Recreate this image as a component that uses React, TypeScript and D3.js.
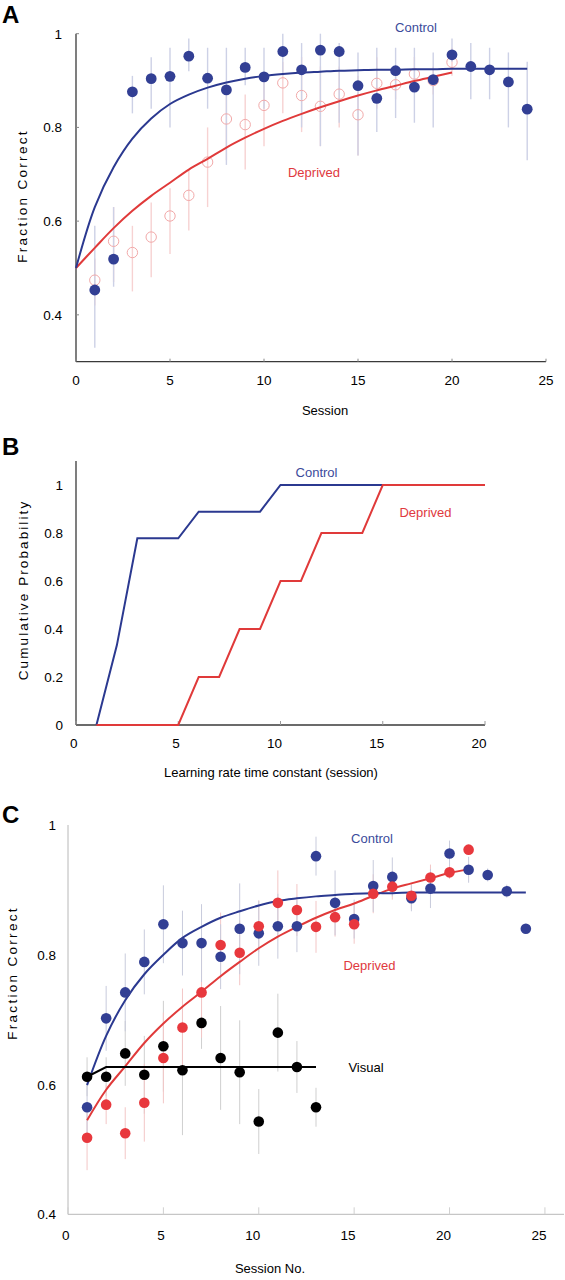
import React from "react";
import * as d3 from "d3";

// ---------- Panel A data ----------
const sessionsControlA = [1,2,3,4,5,6,7,8,9,10,11,12,13,14,15,16,17,18,19,20,21,22,23,24];
const controlA = [0.453,0.519,0.876,0.904,0.909,0.952,0.905,0.880,0.928,0.908,0.962,0.923,0.965,0.962,0.889,0.862,0.921,0.886,0.902,0.955,0.930,0.923,0.897,0.839];
const controlALo = [0.33,0.46,0.83,0.84,0.80,0.92,0.84,0.72,0.89,0.84,0.91,0.80,0.76,0.81,0.74,0.79,0.82,0.81,0.80,0.94,0.86,0.86,0.80,0.73];
const controlAHi = [0.59,0.63,0.91,0.95,0.97,0.99,0.97,0.97,0.97,0.97,1.0,0.98,1.0,0.98,0.96,0.97,0.97,0.97,0.96,0.99,0.98,0.97,0.96,0.94];
const sessionsDeprivedA = [1,2,3,4,5,6,7,8,9,10,11,12,13,14,15,16,17,18,19,20];
const deprivedA = [0.474,0.557,0.533,0.566,0.611,0.655,0.726,0.818,0.806,0.847,0.895,0.868,0.845,0.871,0.827,0.894,0.891,0.914,0.900,0.939];
const deprivedALo = [0.42,0.47,0.45,0.48,0.53,0.58,0.63,0.73,0.71,0.76,0.83,0.79,0.76,0.80,0.74,0.84,0.86,0.88,0.87,0.91];
const deprivedAHi = [0.52,0.63,0.59,0.64,0.67,0.71,0.80,0.87,0.87,0.91,0.94,0.95,0.93,0.93,0.91,0.95,0.93,0.95,0.93,0.97];
const fitSessionsControlA = [0,1,2,3,4,5,6,7,8,9,10,11,12,13,14,15,16,17,18,19,20,21,22,23,24];
const fitControlA = [0.5,0.630,0.715,0.776,0.819,0.850,0.870,0.885,0.896,0.904,0.910,0.914,0.917,0.919,0.921,0.922,0.923,0.923,0.924,0.924,0.925,0.925,0.925,0.925,0.925];
const fitSessionsDeprivedA = [0,1,2,3,4,5,6,7,8,9,10,11,12,13,14,15,16,17,18,19,20];
const fitDeprivedA = [0.5,0.543,0.585,0.622,0.654,0.682,0.710,0.733,0.757,0.778,0.797,0.814,0.829,0.843,0.856,0.868,0.879,0.889,0.899,0.908,0.917];
const ticksXA = [0,5,10,15,20,25];
const ticksYA = [0.4,0.6,0.8,1];

// ---------- Panel B data ----------
const cdfControlX = [1,2,3,5,6,9,10,15];
const cdfControlY = [0,0.333,0.778,0.778,0.889,0.889,1,1];
const cdfDeprivedX = [1,5,6,7,8,9,10,11,12,14,15,20];
const cdfDeprivedY = [0,0,0.2,0.2,0.4,0.4,0.6,0.6,0.8,0.8,1,1];
const ticksXB = [0,5,10,15,20];
const ticksYB = [0,0.2,0.4,0.6,0.8,1];

// ---------- Panel C data ----------
const sessionsControlC = [1,2,3,4,5,6,7,8,9,10,11,12,13,14,15,16,17,18,19,20,21,22,23,24];
const controlC = [0.565,0.702,0.742,0.789,0.847,0.818,0.818,0.797,0.840,0.833,0.844,0.844,0.952,0.880,0.855,0.906,0.920,0.887,0.902,0.956,0.931,0.923,0.898,0.840];
const controlCErr = [0.05,0.05,0.06,0.05,0.06,0.05,0.06,0.05,0.07,0.05,0.05,0.04,0.03,0.05,0.03,0.04,0.03,0.02,0.03,0.02,0.02,0.01,0.01,0.0];
const sessionsDeprivedC = [1,2,3,4,5,6,7,8,9,10,11,12,13,14,15,16,17,18,19,20,21];
const deprivedC = [0.518,0.569,0.525,0.572,0.641,0.688,0.742,0.815,0.803,0.844,0.880,0.869,0.843,0.858,0.847,0.894,0.905,0.891,0.919,0.927,0.962];
const deprivedCErr = [0.05,0.03,0.04,0.06,0.07,0.06,0.07,0.05,0.05,0.04,0.05,0.04,0.04,0.03,0.03,0.03,0.02,0.02,0.02,0.01,0.0];
const sessionsVisualC = [1,2,3,4,5,6,7,8,9,10,11,12,13];
const visualC = [0.612,0.612,0.648,0.615,0.659,0.622,0.695,0.641,0.619,0.543,0.680,0.627,0.565];
const visualCErr = [0.03,0.03,0.05,0.06,0.07,0.1,0.04,0.08,0.08,0.05,0.06,0.04,0.03];
const fitSessionsControlC = [1,2,3,4,5,6,7,8,9,10,11,12,13,14,15,16,17,18,19,20,21,22,23,24];
const fitControlC = [0.599,0.675,0.730,0.770,0.800,0.826,0.843,0.857,0.867,0.876,0.883,0.887,0.890,0.892,0.894,0.895,0.895,0.896,0.896,0.896,0.896,0.896,0.896,0.896];
const fitSessionsDeprivedC = [1,2,3,4,5,6,7,8,9,10,11,12,13,14,15,16,17,18,19,20,21];
const fitDeprivedC = [0.545,0.592,0.628,0.664,0.694,0.720,0.743,0.767,0.789,0.810,0.828,0.843,0.857,0.869,0.879,0.891,0.902,0.910,0.918,0.926,0.932];
const fitSessionsVisualC = [1,2,13];
const fitVisualC = [0.612,0.627,0.627];
const ticksXC = [0,5,10,15,20,25];
const ticksYC = [0.4,0.6,0.8,1];

const FONT = "'Liberation Sans', Arial, Helvetica, sans-serif";
const BLUE = "#2b3990";
const BLUE_DOT = "#323f94";
const RED = "#e03a3a";
const RED_DOT = "#e8383d";
const BLUE_TXT = "#3b4a9b";
const RED_TXT = "#e0393e";

type P = [number, number];
const zip = (xs: number[], ys: number[]): P[] => xs.map((x, i) => [x, ys[i]]);

export default function App() {
  const xA = d3.scaleLinear().domain([0, 25]).range([76, 546]);
  const yA = d3.scaleLinear().domain([0.3, 1]).range([361.7, 33.7]);
  const xB = d3.scaleLinear().domain([0, 20]).range([76, 485]);
  const yB = d3.scaleLinear().domain([0, 1.1]).range([725, 461]);
  const xC = d3.scaleLinear().domain([0, 26]).range([68, 564]);
  const yC = d3.scaleLinear().domain([0.4, 1]).range([1214.3, 825]);

  const smooth = d3.curveCatmullRom.alpha(0.5);
  const lineA = d3.line<P>().x(d => xA(d[0])).y(d => yA(d[1])).curve(smooth);
  const lineB = d3.line<P>().x(d => xB(d[0])).y(d => yB(d[1]));
  const lineC = d3.line<P>().x(d => xC(d[0])).y(d => yC(d[1])).curve(smooth);
  const lineCLin = d3.line<P>().x(d => xC(d[0])).y(d => yC(d[1]));

  const fmt = (v: number) => (v === 1 ? "1" : v === 0 ? "0" : d3.format(".1f")(v));
  const txt = { fontFamily: FONT, fontSize: 13 } as const;

  return (
    <svg width={565} height={1280} style={{ position: "absolute", left: 0, top: 0, background: "#fff" }}>
      <rect x={0} y={0} width={565} height={1280} fill="#fff" />

      {/* ================= Panel A ================= */}
      <text x={2} y={23} fontFamily={FONT} fontSize={24} fontWeight={700}>A</text>
      {sessionsDeprivedA.map((s, i) => (
        <line key={"dea" + i} x1={xA(s)} x2={xA(s)} y1={yA(deprivedALo[i])} y2={yA(deprivedAHi[i])} stroke="#f7d2d2" strokeWidth={1.4} />
      ))}
      {sessionsControlA.map((s, i) => (
        <line key={"cea" + i} x1={xA(s)} x2={xA(s)} y1={yA(controlALo[i])} y2={yA(controlAHi[i])} stroke="#cdd1e6" strokeWidth={1.4} />
      ))}
      {sessionsDeprivedA.map((s, i) => (
        <circle key={"dpa" + i} cx={xA(s)} cy={yA(deprivedA[i])} r={5.2} fill="none" stroke="#f2a9a9" strokeWidth={1} />
      ))}
      <line x1={76} x2={76} y1={yA(1)} y2={yA(0.3)} stroke="#3a3a3a" strokeWidth={1.3} />
      <line x1={76} x2={546} y1={yA(0.3)} y2={yA(0.3)} stroke="#3a3a3a" strokeWidth={1.3} />
      {ticksXA.map(t => (
        <g key={"xta" + t}>
          <line x1={xA(t)} x2={xA(t)} y1={yA(0.3)} y2={yA(0.3) - 3} stroke="#888" strokeWidth={1} />
          <text x={xA(t)} y={385} textAnchor="middle" {...txt} fontSize={13.5}>{t}</text>
        </g>
      ))}
      {ticksYA.map(t => (
        <g key={"yta" + t}>
          <line x1={76} x2={79} y1={yA(t)} y2={yA(t)} stroke="#888" strokeWidth={1} />
          <text x={62} y={yA(t) + 5} textAnchor="end" {...txt} fontSize={13.5}>{fmt(t)}</text>
        </g>
      ))}
      <text x={325} y={415} textAnchor="middle" {...txt}>Session</text>
      <text transform={`translate(27,196) rotate(-90)`} textAnchor="middle" {...txt} fontSize={13.5} letterSpacing={2.3}>Fraction Correct</text>
      <path d={lineA(zip(fitSessionsDeprivedA, fitDeprivedA)) || ""} fill="none" stroke={RED} strokeWidth={2} />
      <path d={lineA(zip(fitSessionsControlA, fitControlA)) || ""} fill="none" stroke={BLUE} strokeWidth={2} />
      {sessionsControlA.map((s, i) => (
        <circle key={"cpa" + i} cx={xA(s)} cy={yA(controlA[i])} r={5.4} fill={BLUE_DOT} />
      ))}
      <text x={416} y={31.5} textAnchor="middle" {...txt} fill={BLUE_TXT}>Control</text>
      <text x={314} y={177} textAnchor="middle" {...txt} fill={RED_TXT}>Deprived</text>

      {/* ================= Panel B ================= */}
      <text x={2} y={455} fontFamily={FONT} fontSize={24} fontWeight={700}>B</text>
      <line x1={76} x2={76} y1={yB(1.1)} y2={yB(0)} stroke="#3a3a3a" strokeWidth={1.3} />
      <line x1={76} x2={485} y1={yB(0)} y2={yB(0)} stroke="#3a3a3a" strokeWidth={1.3} />
      {ticksXB.map(t => (
        <g key={"xtb" + t}>
          <line x1={xB(t)} x2={xB(t)} y1={yB(0)} y2={yB(0) - 4} stroke="#999" strokeWidth={1} />
          <text x={xB(t) + 1.5} y={748} textAnchor="end" {...txt} fontSize={13.5}>{t}</text>
        </g>
      ))}
      {ticksYB.map(t => (
        <text key={"ytb" + t} x={63} y={yB(t) + 5} textAnchor="end" {...txt} fontSize={13.5}>{fmt(t)}</text>
      ))}
      <text x={271} y={777} textAnchor="middle" {...txt}>Learning rate time constant (session)</text>
      <text transform={`translate(28,590) rotate(-90)`} textAnchor="middle" {...txt} fontSize={13.5} letterSpacing={2.1}>Cumulative Probability</text>
      <path d={lineB(zip(cdfControlX, cdfControlY)) || ""} fill="none" stroke={BLUE} strokeWidth={2} />
      <path d={lineB(zip(cdfDeprivedX, cdfDeprivedY)) || ""} fill="none" stroke={RED} strokeWidth={2} />
      <text x={316.5} y={476.5} textAnchor="middle" {...txt} fill={BLUE_TXT}>Control</text>
      <text x={425.5} y={516.5} textAnchor="middle" {...txt} fill={RED_TXT}>Deprived</text>

      {/* ================= Panel C ================= */}
      <text x={2} y={823} fontFamily={FONT} fontSize={24} fontWeight={700}>C</text>
      {sessionsVisualC.map((s, i) => (
        <line key={"vec" + i} x1={xC(s)} x2={xC(s)} y1={yC(visualC[i] - visualCErr[i])} y2={yC(visualC[i] + visualCErr[i])} stroke="#cfcfcf" strokeWidth={1} />
      ))}
      {sessionsDeprivedC.map((s, i) => (
        <line key={"dec" + i} x1={xC(s)} x2={xC(s)} y1={yC(deprivedC[i] - deprivedCErr[i])} y2={yC(deprivedC[i] + deprivedCErr[i])} stroke="#f3c6c6" strokeWidth={1} />
      ))}
      {sessionsControlC.map((s, i) => (
        <line key={"cec" + i} x1={xC(s)} x2={xC(s)} y1={yC(controlC[i] - controlCErr[i])} y2={yC(controlC[i] + controlCErr[i])} stroke="#c8cbdc" strokeWidth={1} />
      ))}
      <line x1={68} x2={68} y1={yC(1)} y2={yC(0.4)} stroke="#b8b8b8" strokeWidth={1} />
      <line x1={68} x2={564} y1={yC(0.4)} y2={yC(0.4)} stroke="#b8b8b8" strokeWidth={1} />
      {ticksXC.map(t => (
        <g key={"xtc" + t}>
          <line x1={xC(t)} x2={xC(t)} y1={yC(0.4)} y2={yC(0.4) - 7} stroke="#d0d0d0" strokeWidth={1} />
          <text x={xC(t) + 1.5} y={1240} textAnchor="end" {...txt} fontSize={13.5}>{t}</text>
        </g>
      ))}
      {ticksYC.map(t => (
        <text key={"ytc" + t} x={56} y={yC(t) + 5} textAnchor="end" {...txt} fontSize={13.5}>{fmt(t)}</text>
      ))}
      <text x={270} y={1273} textAnchor="middle" {...txt}>Session No.</text>
      <text transform={`translate(17,973) rotate(-90)`} textAnchor="middle" {...txt} fontSize={13.5} letterSpacing={2.3}>Fraction Correct</text>
      <path d={lineC(zip(fitSessionsDeprivedC, fitDeprivedC)) || ""} fill="none" stroke={RED} strokeWidth={2} />
      <path d={lineC(zip(fitSessionsControlC, fitControlC)) || ""} fill="none" stroke={BLUE} strokeWidth={2} />
      <path d={lineCLin(zip(fitSessionsVisualC, fitVisualC)) || ""} fill="none" stroke="#000" strokeWidth={2} />
      {sessionsControlC.map((s, i) => (
        <circle key={"cpc" + i} cx={xC(s)} cy={yC(controlC[i])} r={5.3} fill={BLUE_DOT} />
      ))}
      {sessionsDeprivedC.map((s, i) => (
        <circle key={"dpc" + i} cx={xC(s)} cy={yC(deprivedC[i])} r={5.3} fill={RED_DOT} />
      ))}
      {sessionsVisualC.map((s, i) => (
        <circle key={"vpc" + i} cx={xC(s)} cy={yC(visualC[i])} r={5.3} fill="#000" />
      ))}
      <text x={372} y={842.5} textAnchor="middle" {...txt} fill={BLUE_TXT}>Control</text>
      <text x={369.5} y={970} textAnchor="middle" {...txt} fill={RED_TXT}>Deprived</text>
      <text x={366} y={1071.5} textAnchor="middle" {...txt} fill="#000">Visual</text>
    </svg>
  );
}
